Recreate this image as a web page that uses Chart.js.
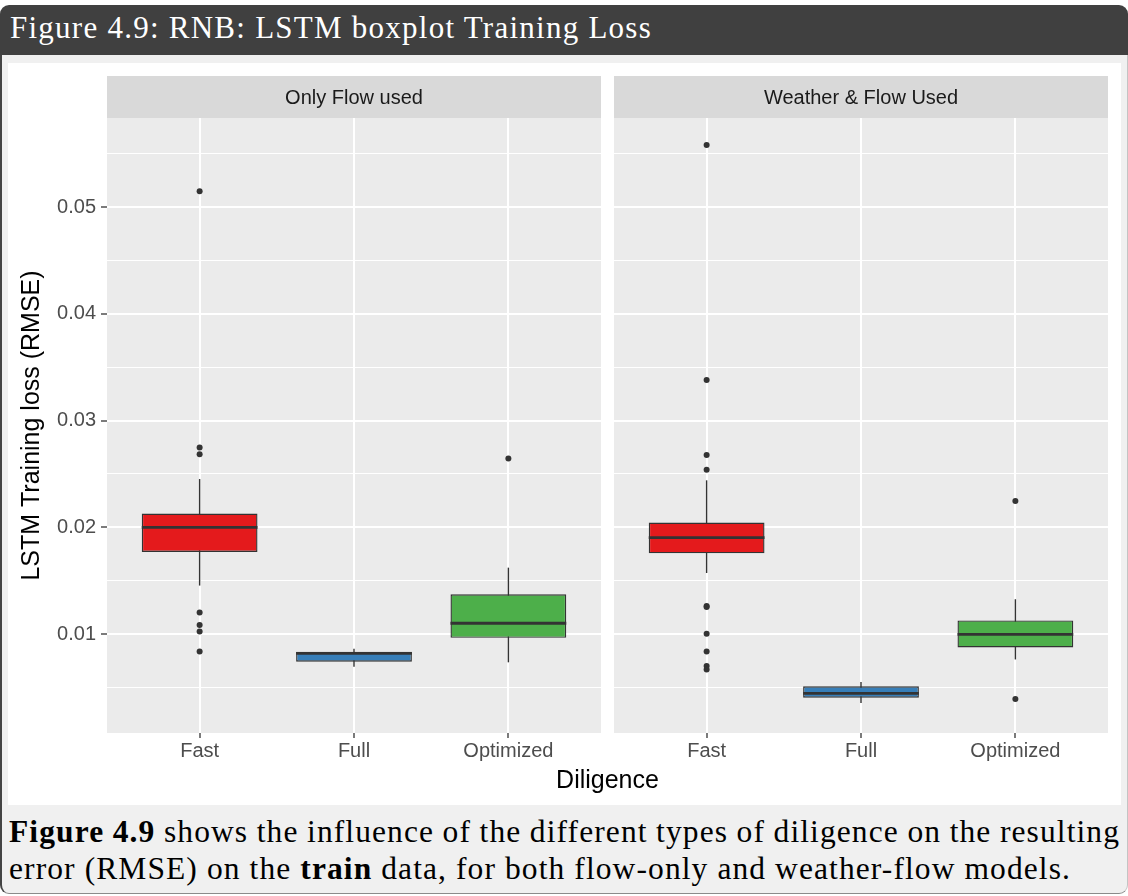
<!DOCTYPE html>
<html>
<head>
<meta charset="utf-8">
<title>Figure 4.9: RNB: LSTM boxplot Training Loss</title>
<script src="https://cdn.jsdelivr.net/npm/chart.js@4.4.1/dist/chart.umd.min.js"></script>
<style>
  html, body { margin: 0; padding: 0; background: #ffffff; width: 1128px; height: 896px; overflow: hidden; }
  #titlebar { position: absolute; left: 0; top: 5px; width: 1128px; height: 50px; background: #404040; border-radius: 9px 9px 0 0; }
  #titletext { position: absolute; left: 10px; top: 12px; font-family: "Liberation Serif", "Times New Roman", serif; font-size: 31px; line-height: 31px; color: #ffffff; white-space: nowrap; }
  #body { position: absolute; left: 0; top: 55px; width: 1128px; height: 839px; box-sizing: border-box; background: #f0f0f0;
          border-left: 2px solid #444444; border-right: 1px solid #c4c4c4; border-bottom: 1px solid #8a8a8a; border-radius: 0 0 9px 9px; }
  #plotbg { position: absolute; left: 8px; top: 63px; width: 1113px; height: 742px; background: #ffffff; }
  canvas { position: absolute; }
  #facetLeft { left: 8px; top: 76px; }
  #facetRight { left: 608px; top: 76px; }
  #xtitle { position: absolute; left: 107px; width: 1001px; top: 767px; text-align: center; font-family: "Liberation Sans", Arial, sans-serif;
            font-size: 25px; line-height: 25px; color: #000000; }
  #caption { position: absolute; left: 9px; top: 813px; width: 1111px; font-family: "Liberation Serif", "Times New Roman", serif;
             font-size: 31.5px; line-height: 37.3px; color: #000000; }
  #caption div { white-space: nowrap; }
  #caption span.line { display: inline-block; }
</style>
</head>
<body>
<div id="titlebar"></div>
<div id="titletext"><span id="titlespan">Figure 4.9: RNB: LSTM boxplot Training Loss</span></div>
<div id="body"></div>
<div id="plotbg"></div>
<canvas id="facetLeft" width="600" height="697"></canvas>
<canvas id="facetRight" width="513" height="697"></canvas>
<div id="xtitle">Diligence</div>
<div id="caption">
  <div><span class="line" id="cap1"><b>Figure 4.9</b> shows the influence of the different types of diligence on the resulting</span></div>
  <div><span class="line" id="cap2">error (RMSE) on the <b>train</b> data, for both flow-only and weather-flow models.</span></div>
</div>
<script>
// ---- data ----
const categories = ['Fast', 'Full', 'Optimized'];
const facetLabels = ['Only Flow used', 'Weather & Flow Used'];
const yTitle = 'LSTM Training loss (RMSE)';
const yTicks = [0.01, 0.02, 0.03, 0.04, 0.05];
const yTickLabels = ['0.01', '0.02', '0.03', '0.04', '0.05'];
const yMinorTicks = [0.005, 0.015, 0.025, 0.035, 0.045, 0.055];
const yLimits = [0.00073, 0.05834];

// Only Flow used: whisker ends, quartiles, medians, outliers per diligence level
const flowLower  = [0.01454, 0.00694, 0.00735];
const flowQ1     = [0.01769, 0.00741, 0.00965];
const flowMedian = [0.02000, 0.00819, 0.01101];
const flowQ3     = [0.02128, 0.00834, 0.01372];
const flowUpper  = [0.02452, 0.00862, 0.01622];
const flowOutliers = [
  [0.05147, 0.02747, 0.02684, 0.01201, 0.01085, 0.01023, 0.00836],
  [],
  [0.02644]
];

// Weather & Flow Used
const weatherLower  = [0.01572, 0.00354, 0.00762];
const weatherQ1     = [0.01756, 0.00403, 0.00875];
const weatherMedian = [0.01903, 0.00444, 0.00997];
const weatherQ3     = [0.02044, 0.00510, 0.01128];
const weatherUpper  = [0.02440, 0.00551, 0.01326];
const weatherOutliers = [
  [0.05580, 0.03379, 0.02677, 0.02540, 0.01262, 0.01253, 0.01003, 0.00836, 0.00701, 0.00667],
  [],
  [0.02246, 0.00391]
];

// ---- styling ----
const boxFills = ['#E41A1C', '#377EB8', '#4DAF4A'];
const ink = '#333333';
const sans = '"Liberation Sans", Arial, sans-serif';
Chart.defaults.font.family = sans;

function isMajor(v) { return yTicks.some(t => Math.abs(t - v) < 1e-9); }

// panel background + facet strip
function panelPlugin(label) {
  return {
    id: 'panelDecor',
    beforeDraw(chart) {
      const { ctx, chartArea: a } = chart;
      ctx.save();
      ctx.fillStyle = '#EBEBEB';
      ctx.fillRect(a.left, a.top, a.right - a.left, a.bottom - a.top);
      ctx.fillStyle = '#D9D9D9';
      ctx.fillRect(a.left, 0, a.right - a.left, a.top);
      ctx.fillStyle = '#1A1A1A';
      ctx.font = '20px ' + sans;
      ctx.textAlign = 'center';
      ctx.textBaseline = 'middle';
      ctx.fillText(label, (a.left + a.right) / 2, a.top / 2 + 1);
      ctx.restore();
    }
  };
}

// whiskers under the boxes, medians over them
function boxStatsPlugin(stats) {
  return {
    id: 'boxStats',
    beforeDatasetDraw(chart, args) {
      if (args.index !== 0) return;
      const { ctx, scales: { x, y } } = chart;
      ctx.save();
      ctx.strokeStyle = ink;
      ctx.lineWidth = 1.4;
      stats.lower.forEach((lo, i) => {
        const px = x.getPixelForValue(i + 1);
        ctx.beginPath();
        ctx.moveTo(px, y.getPixelForValue(lo));
        ctx.lineTo(px, y.getPixelForValue(stats.upper[i]));
        ctx.stroke();
      });
      ctx.restore();
    },
    afterDatasetDraw(chart, args) {
      if (args.index !== 0) return;
      const { ctx, scales: { y } } = chart;
      const meta = chart.getDatasetMeta(0);
      ctx.save();
      ctx.strokeStyle = ink;
      ctx.lineWidth = 2.8;
      meta.data.forEach((bar, i) => {
        const { x: bx, width } = bar.getProps(['x', 'width'], true);
        const py = y.getPixelForValue(stats.median[i]);
        ctx.beginPath();
        ctx.moveTo(bx - width / 2, py);
        ctx.lineTo(bx + width / 2, py);
        ctx.stroke();
      });
      ctx.restore();
    }
  };
}

function makeFacet(canvasId, facetIndex, stats, withYAxis) {
  const boxes = categories.map((c, i) => ({ x: i + 1, y: [stats.q1[i], stats.q3[i]] }));
  const points = [];
  stats.outliers.forEach((list, i) => list.forEach(v => points.push({ x: i + 1, y: v })));

  const yScale = {
    type: 'linear',
    min: yLimits[0],
    max: yLimits[1],
    afterBuildTicks: s => {
      s.ticks = yMinorTicks.concat(yTicks).sort((a, b) => a - b).map(v => ({ value: v }));
    },
    ticks: {
      display: withYAxis,
      autoSkip: false,
      color: '#4D4D4D',
      font: { size: 20 },
      padding: 5,
      callback: v => {
        const k = yTicks.findIndex(t => Math.abs(t - v) < 1e-9);
        return k >= 0 ? yTickLabels[k] : '';
      }
    },
    grid: {
      color: '#FFFFFF',
      lineWidth: c => (c.tick && isMajor(c.tick.value)) ? 2 : 1.1,
      drawTicks: withYAxis,
      tickLength: 6,
      tickWidth: 1.3,
      tickColor: c => (c.tick && isMajor(c.tick.value)) ? ink : 'rgba(0,0,0,0)'
    },
    border: { display: false },
    title: {
      display: withYAxis,
      text: yTitle,
      color: '#000000',
      font: { size: 25 },
      padding: { top: 9, bottom: 0 }
    },
    afterFit: s => { s.width = withYAxis ? 99 : 0; s.paddingTop = 0; s.paddingBottom = 0; }
  };

  const xScale = {
    type: 'linear',
    min: 0.4,
    max: 3.6,
    offset: false,
    afterBuildTicks: s => { s.ticks = categories.map((c, i) => ({ value: i + 1 })); },
    ticks: {
      autoSkip: false,
      maxRotation: 0,
      color: '#4D4D4D',
      font: { size: 20 },
      padding: 1,
      callback: v => categories[Math.round(v) - 1] || ''
    },
    grid: { offset: false, color: '#FFFFFF', lineWidth: 2, tickLength: 5, tickWidth: 1.3, tickColor: ink },
    border: { display: false },
    afterFit: s => { s.height = 40; s.paddingLeft = 0; s.paddingRight = 0; }
  };

  return new Chart(document.getElementById(canvasId), {
    type: 'bar',
    data: {
      datasets: [
        {
          type: 'bar',
          data: boxes,
          backgroundColor: boxFills,
          borderColor: ink,
          borderWidth: 1.4,
          borderSkipped: false,
          inflateAmount: 0,
          categoryPercentage: 1,
          barPercentage: 0.75,
          order: 2
        },
        {
          type: 'scatter',
          data: points,
          pointRadius: 3,
          pointBackgroundColor: ink,
          pointBorderWidth: 0,
          pointHoverRadius: 3,
          order: 1
        }
      ]
    },
    options: {
      responsive: false,
      animation: false,
      devicePixelRatio: 1,
      layout: { padding: withYAxis ? { top: 42, right: 7, bottom: 0, left: 0 } : { top: 42, right: 13, bottom: 0, left: 6 } },
      plugins: { legend: { display: false }, tooltip: { enabled: false } },
      events: [],
      scales: { x: xScale, y: yScale }
    },
    plugins: [panelPlugin(facetLabels[facetIndex]), boxStatsPlugin(stats)]
  });
}

makeFacet('facetLeft', 0, {
  lower: flowLower, q1: flowQ1, median: flowMedian, q3: flowQ3, upper: flowUpper, outliers: flowOutliers
}, true);
makeFacet('facetRight', 1, {
  lower: weatherLower, q1: weatherQ1, median: weatherMedian, q3: weatherQ3, upper: weatherUpper, outliers: weatherOutliers
}, false);

// spread the serif lines to the widths of the LaTeX-set originals
function fitLetters(el, target) {
  el.style.letterSpacing = '0px';
  const w = el.getBoundingClientRect().width;
  const n = el.textContent.length;
  el.style.letterSpacing = ((target - w) / n) + 'px';
}
function fitWords(el, target) {
  el.style.wordSpacing = '0px';
  const w = el.getBoundingClientRect().width;
  const gaps = (el.textContent.trim().match(/ /g) || []).length;
  if (gaps) el.style.wordSpacing = ((target - w) / gaps) + 'px';
}
function layoutText() {
  fitLetters(document.getElementById('titlespan'), 642);
  const cap1 = document.getElementById('cap1');
  const cap2 = document.getElementById('cap2');
  fitLetters(cap2, 1062);
  cap1.style.letterSpacing = cap2.style.letterSpacing;
  fitWords(cap1, 1111);
}
layoutText();
if (document.fonts && document.fonts.ready) document.fonts.ready.then(layoutText);
</script>
</body>
</html>
